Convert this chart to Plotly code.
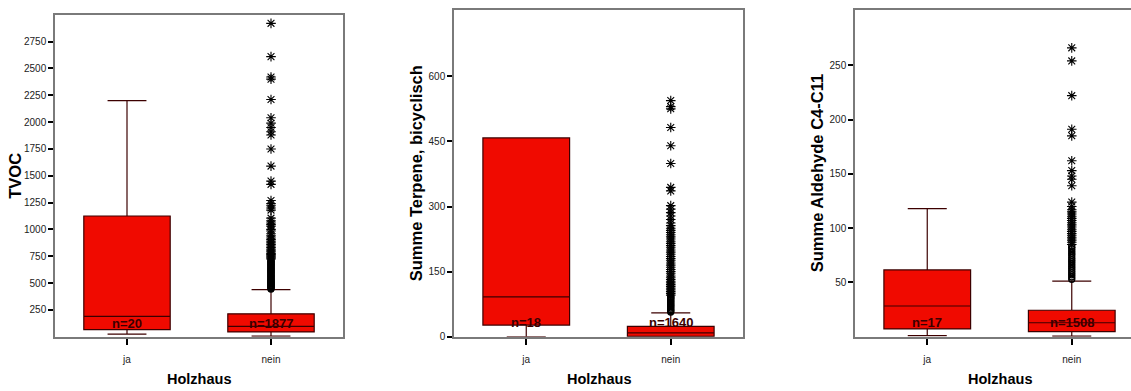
import plotly.graph_objects as go

# ---- data ----------------------------------------------------------------
categories = ["ja", "nein"]
group_n = {
    "tvoc": [20, 1877],
    "terp": [18, 1640],
    "ald": [17, 1508],
}

# box statistics per group: [ja, nein]
tvoc_q1 = [67, 45]
tvoc_median = [189, 97]
tvoc_q3 = [1125, 214]
tvoc_lower = [24, 5]
tvoc_upper = [2200, 440]

terp_q1 = [27, 1]
terp_median = [92, 9]
terp_q3 = [458, 24]
terp_lower = [0, 0]
terp_upper = [458, 55]

ald_q1 = [7.2, 4.7]
ald_median = [28.3, 12.9]
ald_q3 = [61.5, 24.4]
ald_lower = [1.1, 0.5]
ald_upper = [118, 51.3]

# outliers (1.5-3 IQR) and extremes (> 3 IQR) of the "nein" group
tvoc_outliers = [445, 452, 460, 468, 475, 483, 490, 498, 505, 512, 520, 528,
                 535, 545, 555, 562, 570, 580, 590, 598, 605, 615, 625, 632,
                 640, 650, 660, 668, 675, 685, 695, 705, 715]
tvoc_extremes = [725, 735, 745, 755, 765, 775, 790, 800, 815, 830, 845, 860,
                 875, 890, 905, 920, 940, 960, 985, 1000, 1030, 1045, 1060,
                 1080, 1105, 1180, 1200, 1220, 1240, 1270, 1420, 1450, 1590,
                 1750, 1880, 1910, 1950, 1990, 2040, 2210, 2400, 2420, 2610,
                 2920]

terp_outliers = [57, 60, 63, 66, 69, 72, 75, 78, 81, 84, 87, 90, 93]
terp_extremes = [96, 100, 104, 108, 112, 116, 120, 124, 128, 132, 136, 140,
                 145, 150, 155, 160, 165, 170, 175, 180, 185, 190, 195, 200,
                 205, 210, 215, 220, 225, 230, 235, 240, 245, 250, 256, 262,
                 270, 278, 286, 294, 302, 336, 344, 399, 440, 482, 525, 530,
                 544]

ald_outliers = [53, 55, 57, 59, 61, 63, 65, 67, 69, 71, 73, 75, 77, 79, 81, 83]
ald_extremes = [85, 87, 89, 91, 93, 95, 97, 99, 101, 103, 105, 107, 109, 111,
                113, 115, 117, 120, 124, 139, 145, 148, 153, 162, 185, 191,
                222, 254, 266]

y_titles = ["TVOC", "Summe Terpene, bicyclisch", "Summe Aldehyde C4-C11"]
x_title = "Holzhaus"

# ---- styling ------------------------------------------------------------
W, H = 1131, 391
BOX_FILL = "#f00a00"
BOX_LINE = "#3c0000"
FRAME = "#7a7a7a"
NARROW = "Liberation Sans Narrow, Arial Narrow, Liberation Sans, Arial"
SANS = "Liberation Sans, Arial, sans-serif"

# plot areas in pixels: (left, right, top, bottom)
areas = [(55, 343, 15, 342), (454, 743, 10, 342), (855, 1131, 10, 342)]
x_ranges = [[-0.5, 1.5], [-0.5, 1.5], [-0.5, 1.5 - (1144 - 1131) / 144.3]]
y_ranges = [[0, 3000], [0, 753], [0, 301]]
y_ticks = [list(range(250, 2751, 250)), [0, 150, 300, 450, 600],
           [50, 100, 150, 200, 250]]

panels = [
    (tvoc_q1, tvoc_median, tvoc_q3, tvoc_lower, tvoc_upper,
     tvoc_outliers, tvoc_extremes, group_n["tvoc"]),
    (terp_q1, terp_median, terp_q3, terp_lower, terp_upper,
     terp_outliers, terp_extremes, group_n["terp"]),
    (ald_q1, ald_median, ald_q3, ald_lower, ald_upper,
     ald_outliers, ald_extremes, group_n["ald"]),
]

fig = go.Figure()
annotations = []
layout = {}

for i, (q1, med, q3, lo, up, outl, extr, ns) in enumerate(panels):
    k = "" if i == 0 else str(i + 1)
    xa, ya = "x" + k, "y" + k
    left, right, top, bottom = areas[i]

    fig.add_trace(go.Box(
        x=categories, q1=q1, median=med, q3=q3,
        lowerfence=lo, upperfence=up,
        boxpoints=False, width=0.6, whiskerwidth=0.45,
        fillcolor=BOX_FILL, line=dict(color=BOX_LINE, width=1.2),
        xaxis=xa, yaxis=ya, showlegend=False, hoverinfo="skip",
    ))
    fig.add_trace(go.Scatter(
        x=["nein"] * len(outl), y=outl, mode="markers",
        marker=dict(symbol="circle-open", size=6, color="black",
                    line=dict(width=1.4, color="black")),
        xaxis=xa, yaxis=ya, showlegend=False, hoverinfo="skip",
    ))
    fig.add_trace(go.Scatter(
        x=["nein"] * len(extr), y=extr, mode="markers",
        marker=dict(symbol="asterisk-open", size=8, color="black",
                    line=dict(width=1.1, color="black")),
        xaxis=xa, yaxis=ya, showlegend=False, hoverinfo="skip",
    ))

    layout["xaxis" + k] = dict(
        domain=[left / W, right / W], anchor=ya,
        type="category", categoryorder="array", categoryarray=categories,
        range=x_ranges[i], showgrid=False, zeroline=False,
        showline=True, linecolor=FRAME, linewidth=1.5, mirror=True,
        ticks="outside", ticklen=6, tickwidth=2, tickcolor="black",
        ticklabelstandoff=6,
        tickfont=dict(family=NARROW, size=10, color="#222"),
    )
    layout["yaxis" + k] = dict(
        domain=[(H - bottom) / H, (H - top) / H], anchor=xa,
        range=y_ranges[i], tickvals=y_ticks[i],
        showgrid=False, zeroline=False,
        showline=True, linecolor=FRAME, linewidth=1.5,
        mirror=(i < 2),
        ticks="outside", ticklen=5, tickwidth=2, tickcolor="black",
        tickfont=dict(family=NARROW, size=10, color="#222"),
    )

    # group sizes written inside the boxes
    for cat, n in zip(categories, ns):
        annotations.append(dict(
            x=cat, xref=xa, y=0.052, yref=ya + " domain", yshift=-3,
            text=f"<b>n={n}</b>", showarrow=False,
            font=dict(family=NARROW, size=13, color="#3a0000"),
            xanchor="center", yanchor="middle",
        ))

    # axis titles
    annotations.append(dict(
        x=0.5, xref=xa, y=(H - 385) / H, yref="paper",
        text=f"<b>{x_title}</b>", showarrow=False,
        font=dict(family=SANS, size=14.5, color="black"),
        xanchor="center", yanchor="middle",
    ))
    title_x = [15, 416, 817][i]
    annotations.append(dict(
        x=title_x / W, xref="paper", y=0.5, yref=ya + " domain",
        text=f"<b>{y_titles[i]}</b>", showarrow=False, textangle=-90,
        font=dict(family=SANS, size=16.5, color="black"),
        xanchor="center", yanchor="middle",
    ))

fig.update_layout(
    width=W, height=H,
    margin=dict(l=0, r=0, t=0, b=0),
    paper_bgcolor="white", plot_bgcolor="white",
    annotations=annotations,
    **layout,
)

fig.write_html("out.html")
